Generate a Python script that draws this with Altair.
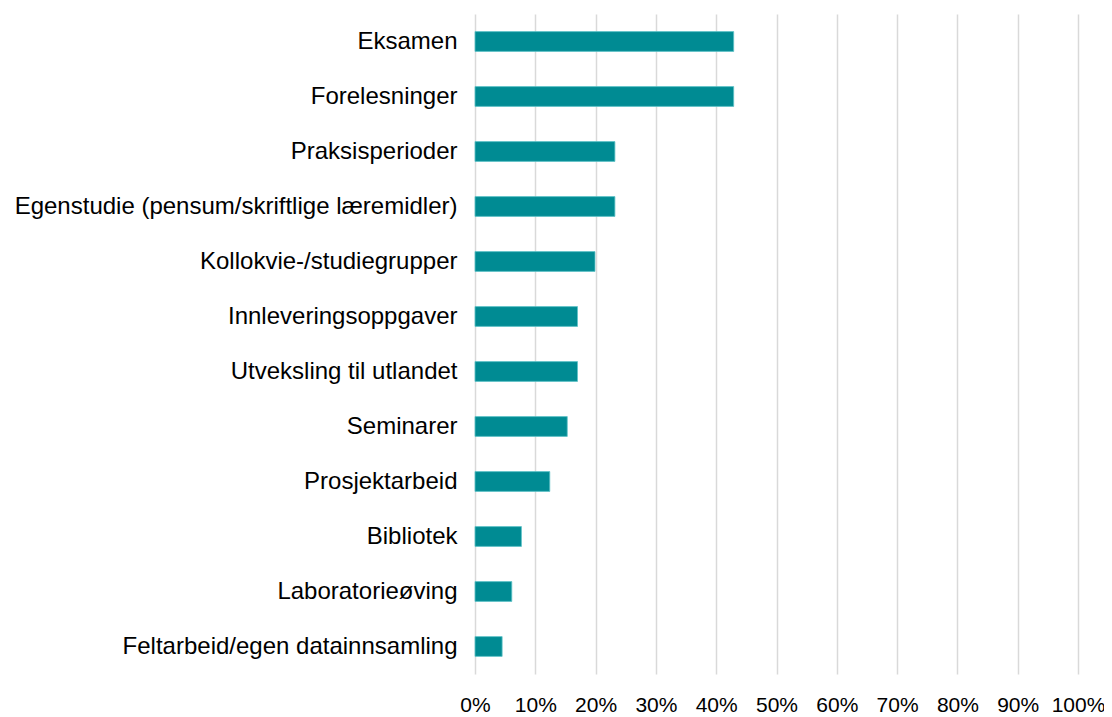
import altair as alt
import pandas as pd

categories = [
    "Eksamen",
    "Forelesninger",
    "Praksisperioder",
    "Egenstudie (pensum/skriftlige læremidler)",
    "Kollokvie-/studiegrupper",
    "Innleveringsoppgaver",
    "Utveksling til utlandet",
    "Seminarer",
    "Prosjektarbeid",
    "Bibliotek",
    "Laboratorieøving",
    "Feltarbeid/egen datainnsamling",
]
values = [0.429, 0.429, 0.232, 0.232, 0.199, 0.170, 0.170, 0.153, 0.124, 0.077, 0.061, 0.045]
tick_values = [i / 10 for i in range(11)]

df = pd.DataFrame({"kategori": categories, "andel": values})

chart = alt.Chart(df).mark_bar(
    color="#008B93", stroke="#5FC3C8", strokeWidth=0.8
).encode(
    y=alt.Y("kategori:N", sort=categories, title=None,
            scale=alt.Scale(paddingInner=0.64, paddingOuter=0.32),
            axis=alt.Axis(ticks=False, domain=False, labelFontSize=24,
                          labelFont="Liberation Sans", labelColor="#000000",
                          labelPadding=18, labelLimit=600)),
    x=alt.X("andel:Q", title=None,
            scale=alt.Scale(domain=[0, 1], nice=False),
            axis=alt.Axis(values=tick_values, format=".0%", ticks=False, domain=False,
                          grid=True, gridColor="#D9D9D9", gridWidth=1.5,
                          labelOverlap=False, labelFlush=False,
                          labelFontSize=21, labelFont="Liberation Sans",
                          labelColor="#000000", labelPadding=20)),
).properties(
    width=603, height=660,
    padding={"left": 467, "top": 6, "right": 26, "bottom": 42},
    autosize=alt.AutoSizeParams(type="none"),
).configure_view(stroke=None)

chart.save("out.html", embed_options={"renderer": "svg", "actions": False})
